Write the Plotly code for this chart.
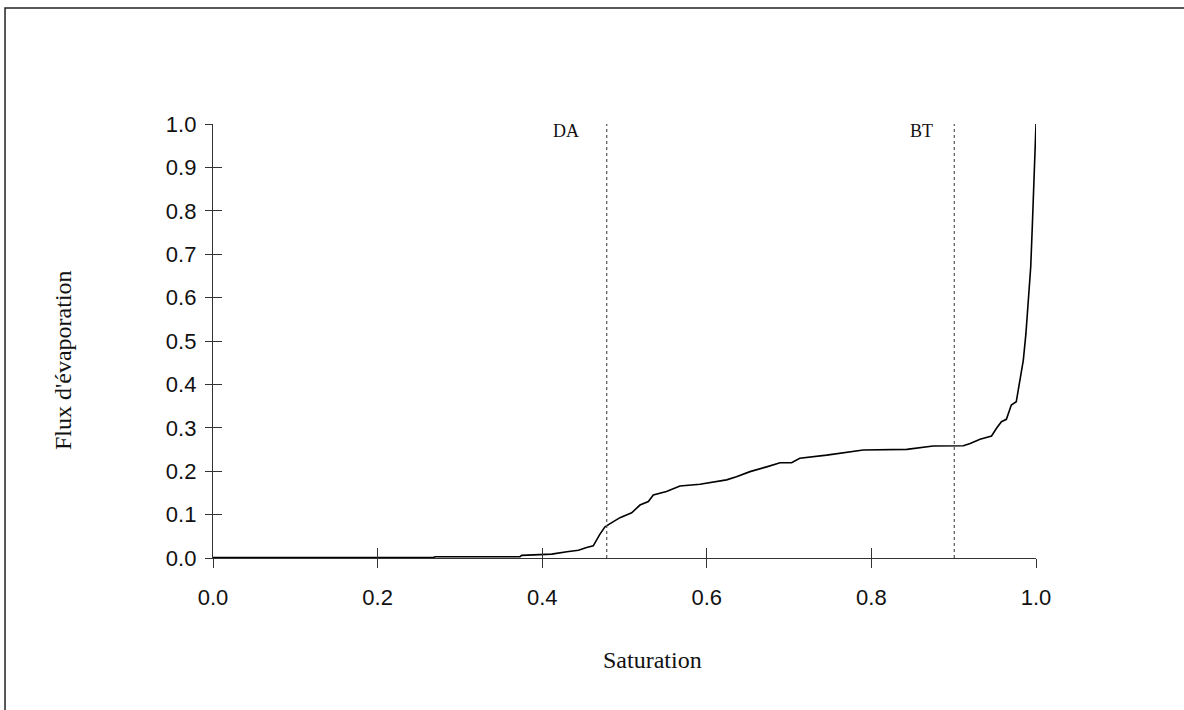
import plotly.graph_objects as go

saturation = [0.0, 0.10, 0.2677, 0.27, 0.373, 0.375, 0.4115, 0.43, 0.444, 0.454, 0.462,
              0.4702, 0.4763, 0.4865, 0.4945, 0.5087, 0.5188, 0.529, 0.535, 0.551, 0.5674,
              0.5917, 0.624, 0.636, 0.6525, 0.6728, 0.689, 0.703, 0.713, 0.7457, 0.774,
              0.790, 0.843, 0.875, 0.9117, 0.92, 0.932, 0.946, 0.952, 0.958, 0.964, 0.970,
              0.976, 0.9806, 0.9846, 0.9878, 0.9907, 0.9936, 0.9955, 0.9976, 1.0]
flux = [0.001, 0.001, 0.001, 0.003, 0.003, 0.006, 0.009, 0.0145, 0.018, 0.024, 0.028,
        0.055, 0.072, 0.0837, 0.093, 0.104, 0.122, 0.130, 0.145, 0.153, 0.166,
        0.170, 0.180, 0.187, 0.199, 0.210, 0.2196, 0.2196, 0.2297, 0.237, 0.245,
        0.249, 0.2504, 0.258, 0.2588, 0.264, 0.2734, 0.281, 0.299, 0.314, 0.3195, 0.3525,
        0.360, 0.410, 0.456, 0.518, 0.594, 0.671, 0.764, 0.856, 1.0]

x_ticks = [0.0, 0.2, 0.4, 0.6, 0.8, 1.0]
x_tick_labels = ["0.0", "0.2", "0.4", "0.6", "0.8", "1.0"]
y_ticks = [0.0, 0.1, 0.2, 0.3, 0.4, 0.5, 0.6, 0.7, 0.8, 0.9, 1.0]
y_tick_labels = ["0.0", "0.1", "0.2", "0.3", "0.4", "0.5", "0.6", "0.7", "0.8", "0.9", "1.0"]

markers_x = [0.4784, 0.9007]
markers_label = ["DA", "BT"]
marker_label_x = [0.4289, 0.8603]

x_title = "Saturation"
y_title = "Flux d'évaporation"

axis_color = "#333333"
tick_font = dict(family="Liberation Sans, Arial, sans-serif", size=22, color="#111111")
serif = "Liberation Serif, Times New Roman, serif"

fig = go.Figure()
fig.add_trace(go.Scatter(x=saturation, y=flux, mode="lines",
                         line=dict(color="black", width=1.6), cliponaxis=False,
                         showlegend=False, hoverinfo="skip"))
# invisible trace to host the overlaying (inside-tick) axes
fig.add_trace(go.Scatter(x=[0, 1], y=[0, 1], xaxis="x2", yaxis="y2", mode="lines",
                         line=dict(width=0), opacity=0, showlegend=False, hoverinfo="skip"))

fig.update_layout(
    width=1184, height=710,
    margin=dict(l=213, r=148, t=124, b=152),
    paper_bgcolor="white", plot_bgcolor="white",
    xaxis=dict(range=[0, 1], tickvals=x_ticks, ticktext=x_tick_labels,
               ticks="outside", ticklen=9, tickwidth=1.3, tickcolor=axis_color,
               showline=True, linecolor=axis_color, linewidth=1.3,
               showgrid=False, zeroline=False, tickfont=tick_font,
               ticklabelstandoff=10),
    yaxis=dict(range=[0, 1], tickvals=y_ticks, ticktext=y_tick_labels,
               ticks="outside", ticklen=7, tickwidth=1.3, tickcolor=axis_color,
               showline=True, linecolor=axis_color, linewidth=1.3,
               showgrid=False, zeroline=False, tickfont=tick_font,
               ticklabelstandoff=4),
    xaxis2=dict(range=[0, 1], overlaying="x", side="bottom", tickvals=x_ticks,
                ticks="inside", ticklen=10, tickwidth=1.3, tickcolor=axis_color,
                showticklabels=False, showline=False, showgrid=False, zeroline=False),
    yaxis2=dict(range=[0, 1], overlaying="y", side="left", tickvals=y_ticks,
                ticks="inside", ticklen=9, tickwidth=1.3, tickcolor=axis_color,
                showticklabels=False, showline=False, showgrid=False, zeroline=False),
    showlegend=False,
)

for mx, lab, lx in zip(markers_x, markers_label, marker_label_x):
    fig.add_shape(type="line", xref="x", yref="y", x0=mx, x1=mx, y0=0, y1=1.009,
                  line=dict(color="#555555", width=1.2, dash="dot"))
    fig.add_annotation(x=lx, y=0.983, xref="x", yref="y", text=lab, showarrow=False,
                       xanchor="center", yanchor="middle",
                       font=dict(family=serif, size=18, color="#111111"))

fig.add_annotation(x=0.5346, y=-0.235, xref="paper", yref="paper", text=x_title,
                   showarrow=False, xanchor="center", yanchor="middle",
                   font=dict(family=serif, size=24, color="#111111"))
fig.add_annotation(x=-0.1823, y=0.456, xref="paper", yref="paper", text=y_title,
                   showarrow=False, xanchor="center", yanchor="middle", textangle=-90,
                   font=dict(family=serif, size=24, color="#111111"))

# outer frame (only top and left edges visible): single open path
fig.add_shape(type="path", xref="paper", yref="paper",
              path="M -0.2527,-0.35 L -0.2527,1.2673 L 1.18,1.2673",
              line=dict(color="#222222", width=1.5))

fig.write_html("out.html", config={"displayModeBar": False},
               post_script="document.body.style.margin='0';document.body.style.overflow='hidden';")
